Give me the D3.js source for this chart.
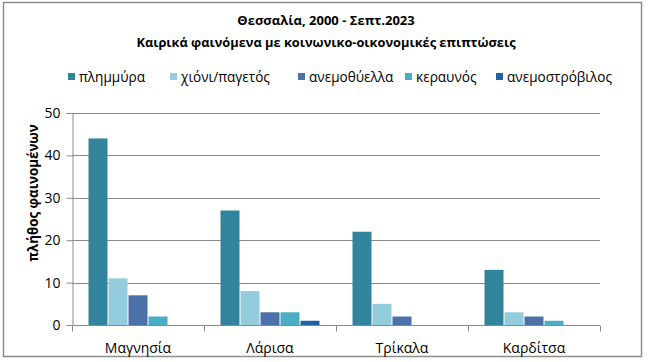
<!DOCTYPE html>
<html>
<head>
<meta charset="utf-8">
<script src="https://cdn.jsdelivr.net/npm/d3@7"></script>
<style>
  body { margin: 0; background: #fff; }
  text { font-family: "Open Sans", "Noto Sans", "DejaVu Sans", sans-serif; fill: #000; }
</style>
</head>
<body>
<div id="chart"></div>
<script>
// data
var regions = ["Μαγνησία", "Λάρισα", "Τρίκαλα", "Καρδίτσα"];
var seriesNames = ["πλημμύρα", "χιόνι/παγετός", "ανεμοθύελλα", "κεραυνός", "ανεμοστρόβιλος"];
var flood = [44, 27, 22, 13];
var snow = [11, 8, 5, 3];
var windstorm = [7, 3, 2, 2];
var lightning = [2, 3, 0, 1];
var tornado = [0, 1, 0, 0];
var yTicks = [0, 10, 20, 30, 40, 50];
var colors = ["#31849b", "#93cddd", "#4a72a8", "#4bacc6", "#1f62a3"];

var seriesValues = [flood, snow, windstorm, lightning, tornado];

var W = 650, H = 362;
var margin = { top: 113, right: 50, bottom: 37, left: 72 },
    width = 600 - margin.left,
    height = 325 - margin.top;

var svg = d3.select("#chart")
    .append("svg")
    .attr("width", W)
    .attr("height", H);

// chart frame
svg.append("rect")
    .attr("x", 3.5).attr("y", 2.5)
    .attr("width", 638).attr("height", 354)
    .attr("fill", "#fff")
    .attr("stroke", "#8c8c8c")
    .attr("stroke-width", 1.5);

// title
svg.append("text")
    .attr("x", 326).attr("y", 25)
    .attr("text-anchor", "middle")
    .style("font-size", "13px")
    .style("font-weight", "bold")
    .text("Θεσσαλία, 2000 - Σεπτ.2023");
svg.append("text")
    .attr("x", 326).attr("y", 47)
    .attr("text-anchor", "middle")
    .style("font-size", "12.8px")
    .style("font-weight", "bold")
    .text("Καιρικά φαινόμενα με κοινωνικο-οικονομικές επιπτώσεις");

// legend
var legendX = [68, 170, 298, 405, 496];
var legend = svg.append("g");
seriesNames.forEach(function (name, i) {
    legend.append("rect")
        .attr("x", legendX[i]).attr("y", 73)
        .attr("width", 7).attr("height", 7)
        .attr("fill", colors[i]);
    legend.append("text")
        .attr("x", legendX[i] + 11).attr("y", 81.5)
        .style("font-size", "13.6px")
        .text(name);
});

var g = svg.append("g")
    .attr("transform", "translate(" + margin.left + "," + margin.top + ")");

var x0 = d3.scaleBand()
    .domain(regions)
    .range([0, width])
    .padding(0);

var x1 = d3.scaleBand()
    .domain(d3.range(seriesNames.length))
    .range([16, x0.bandwidth() - 16]);

var y = d3.scaleLinear()
    .domain([0, 50])
    .range([height, 0]);

// gridlines
g.selectAll(".grid")
    .data(yTicks.filter(function (d) { return d > 0; }))
    .enter().append("line")
    .attr("x1", 0).attr("x2", width)
    .attr("y1", function (d) { return Math.round(y(d)) + 0.5; })
    .attr("y2", function (d) { return Math.round(y(d)) + 0.5; })
    .attr("stroke", "#8a8a8a")
    .attr("stroke-width", 1);

// bars
var rows = regions.map(function (r, i) {
    return { region: r, values: seriesValues.map(function (s) { return s[i]; }) };
});

var groups = g.selectAll(".grp")
    .data(rows)
    .enter().append("g")
    .attr("transform", function (d) { return "translate(" + x0(d.region) + ",0)"; });

groups.selectAll("rect")
    .data(function (d) { return d.values.map(function (v, i) { return { i: i, v: v }; }); })
    .enter().append("rect")
    .attr("x", function (d) { return x1(d.i) + 0.5; })
    .attr("width", x1.bandwidth() - 1)
    .attr("y", function (d) { return y(d.v); })
    .attr("height", function (d) { return height - y(d.v); })
    .attr("fill", function (d) { return colors[d.i]; });

// y axis
var yAxis = g.append("g")
    .attr("transform", "translate(0.5,0)")
    .call(d3.axisLeft(y).tickValues(yTicks).tickSize(6).tickPadding(6));
yAxis.selectAll("line, path").attr("stroke", "#8a8a8a");
yAxis.selectAll("text").style("font-size", "14px").style("fill", "#000");

// x axis
var xAxis = g.append("g")
    .attr("transform", "translate(0," + (height + 0.5) + ")");
xAxis.append("line")
    .attr("x1", 0).attr("x2", width)
    .attr("stroke", "#8a8a8a");
xAxis.selectAll(".tk")
    .data(regions.concat(["end"]))
    .enter().append("line")
    .attr("x1", function (d, i) { return Math.round(i * x0.step()) + 0.5; })
    .attr("x2", function (d, i) { return Math.round(i * x0.step()) + 0.5; })
    .attr("y1", 0).attr("y2", 6)
    .attr("stroke", "#8a8a8a");
xAxis.selectAll(".lbl")
    .data(regions)
    .enter().append("text")
    .attr("x", function (d) { return x0(d) + x0.bandwidth() / 2; })
    .attr("y", 27)
    .attr("text-anchor", "middle")
    .style("font-size", "14px")
    .text(function (d) { return d; });

// y axis title
svg.append("text")
    .attr("transform", "translate(38,193) rotate(-90)")
    .attr("text-anchor", "middle")
    .style("font-size", "13.3px")
    .style("font-weight", "bold")
    .text("πλήθος φαινομένων");
</script>
</body>
</html>
